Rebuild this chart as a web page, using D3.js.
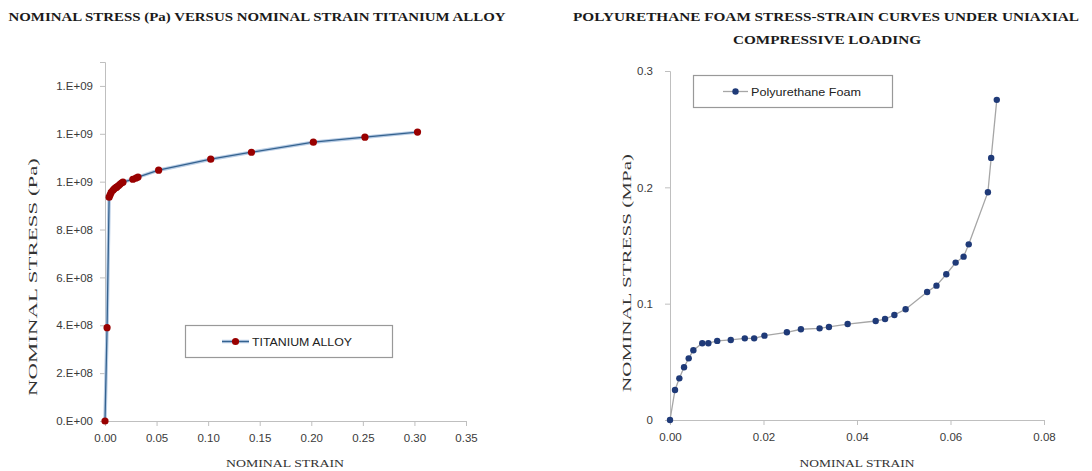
<!DOCTYPE html>
<html><head><meta charset="utf-8">
<script src="https://cdn.jsdelivr.net/npm/d3@7"></script>
<style>body{margin:0;background:#fff}svg{display:block}</style>
</head><body>
<svg id="c" width="1092" height="471"></svg>
<script>
// ---- Titanium alloy data ----
const tiStrain = [0, 0.002, 0.004, 0.005, 0.006, 0.0077, 0.009, 0.0105, 0.0116, 0.013, 0.0145, 0.016, 0.0174, 0.027, 0.030, 0.032, 0.052, 0.1025, 0.142, 0.202, 0.252, 0.303];
const tiStress = [0, 3.9e8, 9.35e8, 9.45e8, 9.55e8, 9.64e8, 9.70e8, 9.75e8, 9.78e8, 9.83e8, 9.89e8, 9.94e8, 9.98e8, 1.010e9, 1.015e9, 1.019e9, 1.048e9, 1.094e9, 1.123e9, 1.165e9, 1.186e9, 1.207e9];
const tiYTicks = [0, 2e8, 4e8, 6e8, 8e8, 1e9, 1.2e9, 1.4e9];
const tiYTickLabels = ["0.E+00", "2.E+08", "4.E+08", "6.E+08", "8.E+08", "1.E+09", "1.E+09", "1.E+09"];
const tiXTicks = [0, 0.05, 0.10, 0.15, 0.20, 0.25, 0.30, 0.35];

// ---- Polyurethane foam data ----
const puStrain = [0, 0.00107, 0.002, 0.003, 0.004, 0.005, 0.0069, 0.0082, 0.0101, 0.013, 0.016, 0.018, 0.0202, 0.025, 0.028, 0.032, 0.034, 0.038, 0.044, 0.046, 0.048, 0.0504, 0.055, 0.057, 0.0591, 0.0611, 0.0628, 0.0639, 0.068, 0.0687, 0.0699];
const puStress = [0, 0.0258, 0.0358, 0.0453, 0.053, 0.060, 0.066, 0.066, 0.068, 0.0688, 0.0702, 0.0702, 0.0725, 0.0754, 0.078, 0.0788, 0.080, 0.0825, 0.0851, 0.0868, 0.0903, 0.0952, 0.110, 0.1155, 0.1253, 0.1353, 0.1404, 0.151, 0.1958, 0.2253, 0.2752];
const puYTicks = [0, 0.1, 0.2, 0.3];
const puXTicks = [0, 0.02, 0.04, 0.06, 0.08];

const svg = d3.select("#c");
const serif = "'Liberation Serif','Times New Roman',serif";
const sans = "'Liberation Sans',Arial,sans-serif";
const axisCol = "#bfbfbf", tickTxt = "#3a3a3a";

function styleAxis(g) {
  g.select(".domain").attr("stroke", axisCol);
  g.selectAll(".tick line").attr("stroke", axisCol);
  g.selectAll(".tick text").attr("fill", tickTxt).attr("font-family", sans).attr("font-size", "11.5px");
}
function fitText(sel, len) { sel.attr("textLength", len).attr("lengthAdjust", "spacingAndGlyphs"); }

// ================= LEFT CHART =================
{
  const x = d3.scaleLinear().domain([0, 0.35]).range([105, 466]);
  const y = d3.scaleLinear().domain([0, 1.5e9]).range([421, 62]);
  const xAx = svg.append("g").attr("transform", "translate(0,421)")
    .call(d3.axisBottom(x).tickValues(tiXTicks).tickFormat(d3.format(".2f")).tickSizeOuter(0).tickSize(5).tickPadding(8));
  styleAxis(xAx);
  const yAx = svg.append("g").attr("transform", "translate(105,0)")
    .call(d3.axisLeft(y).tickValues(tiYTicks).tickFormat((d, i) => tiYTickLabels[i]).tickSizeOuter(0).tickSize(5).tickPadding(7));
  styleAxis(yAx);

  const line = d3.line().x((d, i) => x(tiStrain[i])).y((d, i) => y(tiStress[i]));
  svg.append("path").datum(tiStress).attr("d", line).attr("fill", "none").attr("stroke", "#b9cde5").attr("stroke-width", 3.5);
  svg.append("path").datum(tiStress).attr("d", line).attr("fill", "none").attr("stroke", "#34628f").attr("stroke-width", 1.3);
  svg.append("g").selectAll("circle").data(tiStress).join("circle")
    .attr("cx", (d, i) => x(tiStrain[i])).attr("cy", d => y(d)).attr("r", 3.6).attr("fill", "#990000");

  svg.append("text").attr("x", 257).attr("y", 21).attr("text-anchor", "middle")
    .attr("font-family", serif).attr("font-weight", "bold").attr("font-size", "12px").attr("fill", "#1a1a1a")
    .text("NOMINAL STRESS (Pa) VERSUS NOMINAL STRAIN TITANIUM ALLOY").call(fitText, 497);
  svg.append("text").attr("x", 285).attr("y", 467).attr("text-anchor", "middle")
    .attr("font-family", serif).attr("font-size", "11px").attr("fill", "#333")
    .text("NOMINAL STRAIN").call(fitText, 118);
  svg.append("text").attr("transform", "translate(37,277) rotate(-90)").attr("text-anchor", "middle")
    .attr("font-family", serif).attr("font-size", "13px").attr("fill", "#333")
    .text("NOMINAL STRESS (Pa)").call(fitText, 238);

  // legend
  const lg = svg.append("g");
  lg.append("rect").attr("x", 185.5).attr("y", 325.5).attr("width", 207).attr("height", 32).attr("fill", "#fff").attr("stroke", "#999").attr("stroke-width", 1.2);
  lg.append("line").attr("x1", 222).attr("x2", 249).attr("y1", 341.5).attr("y2", 341.5).attr("stroke", "#b9cde5").attr("stroke-width", 3.5);
  lg.append("line").attr("x1", 222).attr("x2", 249).attr("y1", 341.5).attr("y2", 341.5).attr("stroke", "#34628f").attr("stroke-width", 1.3);
  lg.append("circle").attr("cx", 235.5).attr("cy", 341.5).attr("r", 3.6).attr("fill", "#990000");
  lg.append("text").attr("x", 252).attr("y", 345.5).attr("font-family", sans).attr("font-size", "11px").attr("fill", "#222")
    .text("TITANIUM ALLOY").call(fitText, 100);
}

// ================= RIGHT CHART =================
{
  const x = d3.scaleLinear().domain([0, 0.08]).range([670, 1044]);
  const y = d3.scaleLinear().domain([0, 0.3]).range([420, 71]);
  const xAx = svg.append("g").attr("transform", "translate(0,420)")
    .call(d3.axisBottom(x).tickValues(puXTicks).tickFormat(d3.format(".2f")).tickSizeOuter(0).tickSize(5).tickPadding(8));
  styleAxis(xAx);
  const yAx = svg.append("g").attr("transform", "translate(670,0)")
    .call(d3.axisLeft(y).tickValues(puYTicks).tickFormat(d => d === 0 ? "0" : d3.format(".1f")(d)).tickSizeOuter(0).tickSize(5).tickPadding(12));
  styleAxis(yAx);

  const line = d3.line().x((d, i) => x(puStrain[i])).y((d, i) => y(puStress[i]));
  svg.append("path").datum(puStress).attr("d", line).attr("fill", "none").attr("stroke", "#a6a6a6").attr("stroke-width", 1.3);
  svg.append("g").selectAll("circle").data(puStress).join("circle")
    .attr("cx", (d, i) => x(puStrain[i])).attr("cy", d => y(d)).attr("r", 3.2).attr("fill", "#1f3a78");

  svg.append("text").attr("x", 826).attr("y", 21).attr("text-anchor", "middle")
    .attr("font-family", serif).attr("font-weight", "bold").attr("font-size", "12px").attr("fill", "#1a1a1a")
    .text("POLYURETHANE FOAM STRESS-STRAIN CURVES UNDER UNIAXIAL").call(fitText, 506);
  svg.append("text").attr("x", 827).attr("y", 44).attr("text-anchor", "middle")
    .attr("font-family", serif).attr("font-weight", "bold").attr("font-size", "12px").attr("fill", "#1a1a1a")
    .text("COMPRESSIVE LOADING").call(fitText, 188);
  svg.append("text").attr("x", 857).attr("y", 467).attr("text-anchor", "middle")
    .attr("font-family", serif).attr("font-size", "11px").attr("fill", "#333")
    .text("NOMINAL STRAIN").call(fitText, 115);
  svg.append("text").attr("transform", "translate(631,273) rotate(-90)").attr("text-anchor", "middle")
    .attr("font-family", serif).attr("font-size", "13px").attr("fill", "#333")
    .text("NOMINAL STRESS (MPa)").call(fitText, 238);

  const lg = svg.append("g");
  lg.append("rect").attr("x", 693.5).attr("y", 75.5).attr("width", 199).attr("height", 32).attr("fill", "#fff").attr("stroke", "#999").attr("stroke-width", 1.2);
  lg.append("line").attr("x1", 723).attr("x2", 748).attr("y1", 91.5).attr("y2", 91.5).attr("stroke", "#a6a6a6").attr("stroke-width", 1.3);
  lg.append("circle").attr("cx", 735.5).attr("cy", 91.5).attr("r", 3.2).attr("fill", "#1f3a78");
  lg.append("text").attr("x", 751).attr("y", 95.5).attr("font-family", sans).attr("font-size", "11px").attr("fill", "#222")
    .text("Polyurethane Foam").call(fitText, 110);
}
</script>
</body></html>
